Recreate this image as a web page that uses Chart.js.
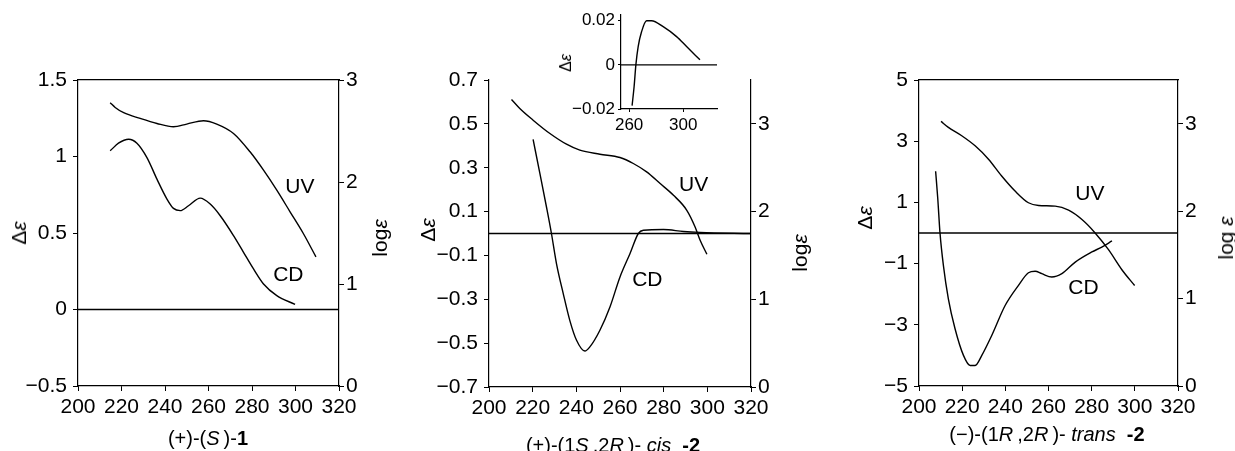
<!DOCTYPE html>
<html>
<head>
<meta charset="utf-8">
<script src="https://cdn.jsdelivr.net/npm/chart.js@4.4.1/dist/chart.umd.min.js"></script>
<style>
  body { margin: 0; background: #fff; }
  #wrap { position: relative; width: 1235px; height: 451px; overflow: hidden; font-family: "Liberation Sans", Arial, sans-serif; color: #000; }
  canvas { position: absolute; top: 0; }
  .t { position: absolute; font-size: 20px; white-space: nowrap; transform: translate(-50%, -50%); }
  .r { transform: translate(-50%, -50%) rotate(-90deg); font-size: 21px; }
  .s { font-size: 16px; }
</style>
</head>
<body>
<div id="wrap">
  <canvas id="c1" width="410" height="451" style="left:0px"></canvas>
  <canvas id="c2" width="399" height="451" style="left:412px"></canvas>
  <canvas id="c3" width="420" height="451" style="left:815px"></canvas>
  <canvas id="c4" width="200" height="150" style="left:540px"></canvas>

  <div class="t r" style="left:19px;top:233px">&Delta;<i>&epsilon;</i></div>
  <div class="t r" style="left:380px;top:238px">log<i>&epsilon;</i></div>
  <div class="t" style="left:208px;top:438px">(+)-(<i>S</i>&thinsp;)-<b>1</b></div>

  <div class="t r" style="left:428px;top:230px">&Delta;<i>&epsilon;</i></div>
  <div class="t r" style="left:800px;top:253px">log<i>&epsilon;</i></div>
  <div class="t" style="left:613px;top:445px">(+)-(1<i>S</i>&thinsp;,2<i>R</i>&thinsp;)- <i>cis</i>&nbsp; <b>-2</b></div>

  <div class="t r" style="left:865px;top:218px">&Delta;<i>&epsilon;</i></div>
  <div class="t r" style="left:1226px;top:238px">log <i>&epsilon;</i></div>
  <div class="t" style="left:1047px;top:434px">(&minus;)-(1<i>R</i>&thinsp;,2<i>R</i>&thinsp;)- <i>trans</i>&nbsp; <b>-2</b></div>

  <div class="t r s" style="left:566px;top:63px">&Delta;<i>&epsilon;</i></div>
</div>

<script>
// shared ticks
const xTicks = [200, 220, 240, 260, 280, 300, 320];
const logTicks = [0, 1, 2, 3];

// (+)-(S)-1
const p1LeftTicks = [-0.5, 0, 0.5, 1, 1.5];
const p1CdWl = [214.8, 218.6, 223.3, 227.1, 231.7, 236.3, 240.9, 243.9, 247, 250.8, 256.2, 260.8, 265.4, 271.5, 276.1, 280.7, 285.3, 291.4, 299.8];
const p1CdDe = [1.037, 1.087, 1.113, 1.087, 0.993, 0.852, 0.722, 0.661, 0.646, 0.678, 0.728, 0.689, 0.613, 0.483, 0.374, 0.265, 0.167, 0.091, 0.033];
const p1UvWl = [214.8, 217.1, 221, 228.6, 236.3, 243.9, 250, 257.7, 263.8, 271.5, 279.1, 285.3, 291.4, 297.5, 303.6, 309.4];
const p1UvLog = [2.777, 2.731, 2.679, 2.623, 2.574, 2.542, 2.568, 2.601, 2.568, 2.476, 2.296, 2.116, 1.92, 1.708, 1.495, 1.266];

// (+)-(1S,2R)-cis-2
const p2LeftTicks = [-0.7, -0.5, -0.3, -0.1, 0.1, 0.3, 0.5, 0.7];
const p2CdWl = [220.2, 223.3, 226.3, 228.6, 230.9, 234, 237, 240.1, 243.9, 246.2, 250.8, 255.4, 260, 264.6, 268.4, 270.7, 279.9, 289.1, 296.7, 319.7];
const p2CdDe = [0.429, 0.274, 0.122, 0, -0.137, -0.274, -0.396, -0.487, -0.536, -0.517, -0.441, -0.335, -0.198, -0.091, 0, 0.015, 0.018, 0.009, 0.005, 0];
const p2UvWl = [210.3, 214.1, 220.2, 227.9, 235.5, 241.6, 250.8, 260, 266.1, 272.2, 278.4, 284.5, 290.6, 294.4, 296.7, 299.8];
const p2UvLog = [3.278, 3.175, 3.042, 2.89, 2.768, 2.7, 2.654, 2.616, 2.548, 2.452, 2.319, 2.186, 2.015, 1.825, 1.673, 1.513];

// inset of cis-2
const insetXTicks = [260, 300];
const insetYTicks = [-0.02, 0, 0.02];
const insetWl = [262.2, 263.7, 265, 266.7, 269.2, 272.9, 276.6, 285.2, 295.1, 302.5, 312.4];
const insetDe = [-0.0185, -0.0098, 0, 0.0083, 0.015, 0.02, 0.02, 0.0173, 0.0128, 0.0083, 0.0023];

// (-)-(1R,2R)-trans-2
const p3LeftTicks = [-5, -3, -1, 1, 3, 5];
const p3CdWl = [207.7, 208.7, 209.7, 211.3, 213.6, 216.7, 220.6, 223.7, 226, 229.1, 233.7, 239.9, 246.1, 250.7, 253.8, 256.9, 261.5, 266.2, 272.4, 280.1, 284.7, 289.4];
const p3CdDe = [2.02, 1.12, 0.03, -1.06, -2.15, -3.13, -4.0, -4.33, -4.33, -4.0, -3.35, -2.37, -1.71, -1.3, -1.25, -1.33, -1.44, -1.33, -0.95, -0.62, -0.46, -0.26];
const p3UvWl = [210.2, 213.6, 219.8, 226, 232.2, 238.3, 244.5, 250.7, 255.4, 263.1, 269.3, 275.5, 281.6, 287.8, 294, 299.9];
const p3UvLog = [3.027, 2.958, 2.862, 2.747, 2.594, 2.402, 2.23, 2.096, 2.065, 2.057, 2.011, 1.904, 1.751, 1.559, 1.33, 1.149];

// curve labels (data coordinates)
const p1Labels = [{ text: 'UV', x: 302, y: 1.95, axis: 'y2' }, { text: 'CD', x: 296.7, y: 0.225, axis: 'y' }];
const p2Labels = [{ text: 'UV', x: 293.7, y: 2.3, axis: 'y2' }, { text: 'CD', x: 272.5, y: 1.22, axis: 'y2' }];
const p3Labels = [{ text: 'UV', x: 279.2, y: 2.19, axis: 'y2' }, { text: 'CD', x: 276.2, y: 1.12, axis: 'y2' }];

Chart.defaults.font.family = '"Liberation Sans", Arial, sans-serif';
Chart.defaults.color = '#000';

const ink = '#000';
const fmt = v => String(v).replace('-', '\u2212');
const pts = (xs, ys) => xs.map((x, i) => ({ x: x, y: ys[i] }));

function line(data, axis) {
  return { data: data, yAxisID: axis, borderColor: ink, borderWidth: 1.4, pointRadius: 0,
    cubicInterpolationMode: 'monotone', fill: false };
}

function axis(pos, min, max, ticks, size, o) {
  o = o || {};
  return {
    type: 'linear', position: pos, min: min, max: max,
    afterBuildTicks: s => { s.ticks = ticks.map(v => ({ value: v })); },
    afterFit: s => { if (pos === 'top' || pos === 'bottom') s.height = size; else s.width = size; },
    ticks: { display: o.noLabels ? false : true, callback: v => fmt(v), padding: o.pad || 4,
      font: { size: o.font || 21 }, color: ink, maxRotation: 0, autoSkip: false },
    grid: { display: !o.noLabels, drawOnChartArea: false, tickLength: o.tick || 5, color: ink, lineWidth: 1 },
    border: { display: true, color: ink, width: 1.2 }
  };
}

function labelPlugin(items) {
  return {
    id: 'curveLabels',
    afterDatasetsDraw(chart) {
      const ctx = chart.ctx;
      ctx.save();
      ctx.font = '21px "Liberation Sans", Arial, sans-serif';
      ctx.fillStyle = ink;
      ctx.textAlign = 'center';
      ctx.textBaseline = 'middle';
      items.forEach(l => ctx.fillText(l.text, chart.scales.x.getPixelForValue(l.x), chart.scales[l.axis].getPixelForValue(l.y)));
      ctx.restore();
    }
  };
}

function panel(id, p) {
  const scales = {
    x: axis('bottom', 200, 320, xTicks, p.bottomH, { pad: 4 }),
    y: axis('left', p.left[0], p.left[1], p.leftTicks, p.leftW, { pad: 6 }),
    y2: axis('right', 0, p.rightMax, logTicks, p.rightW, { pad: 2 })
  };
  if (p.box) scales.xt = axis('top', 200, 320, [], 0, { noLabels: true });
  return new Chart(document.getElementById(id), {
    type: 'line',
    data: { datasets: [
      line(pts([200, 320], [0, 0]), 'y'),
      line(p.cd, 'y'),
      line(p.uv, 'y2')
    ] },
    options: {
      responsive: false, animation: false, events: [],
      layout: { padding: { top: 80, left: 0, right: 0, bottom: 0 } },
      plugins: { legend: { display: false }, tooltip: { enabled: false } },
      scales: scales
    },
    plugins: [labelPlugin(p.labels)]
  });
}

panel('c1', { box: true, leftW: 78, rightW: 71, bottomH: 65,
  left: [-0.5, 1.5], leftTicks: p1LeftTicks, rightMax: 3,
  cd: pts(p1CdWl, p1CdDe), uv: pts(p1UvWl, p1UvLog), labels: p1Labels });

panel('c2', { box: false, leftW: 77, rightW: 60, bottomH: 64,
  left: [-0.7, 0.7], leftTicks: p2LeftTicks, rightMax: 3.5,
  cd: pts(p2CdWl, p2CdDe), uv: pts(p2UvWl, p2UvLog), labels: p2Labels });

panel('c3', { box: true, leftW: 104, rightW: 57, bottomH: 65,
  left: [-5, 5], leftTicks: p3LeftTicks, rightMax: 3.5,
  cd: pts(p3CdWl, p3CdDe), uv: pts(p3UvWl, p3UvLog), labels: p3Labels });

// inset
new Chart(document.getElementById('c4'), {
  type: 'line',
  data: { datasets: [
    line(pts([254, 325], [0, 0]), 'y'),
    line(pts(insetWl, insetDe), 'y')
  ] },
  options: {
    responsive: false, animation: false, events: [],
    layout: { padding: { top: 15, right: 23, left: 0, bottom: 0 } },
    plugins: { legend: { display: false }, tooltip: { enabled: false } },
    scales: {
      x: axis('bottom', 254, 325, insetXTicks, 41, { font: 17, tick: 3, pad: 3 }),
      y: axis('left', -0.02, 0.0226, insetYTicks, 81, { font: 17, tick: 3, pad: 3 })
    }
  }
});
</script>
</body>
</html>
